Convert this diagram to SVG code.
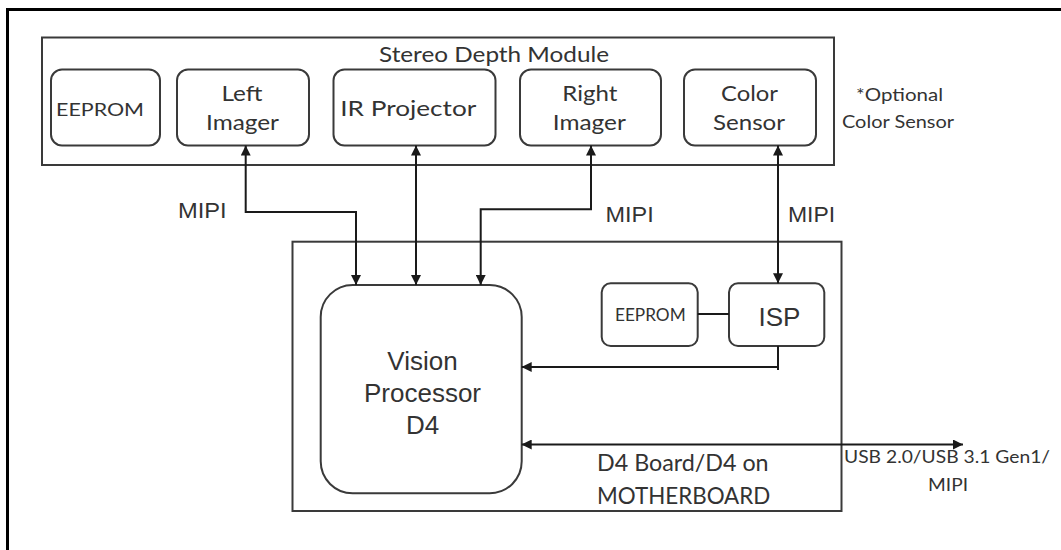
<svg xmlns="http://www.w3.org/2000/svg" width="1061" height="550" viewBox="0 0 1061 550">
<defs>
<marker id="ah" viewBox="0 0 10 10" refX="10" refY="5" markerWidth="10" markerHeight="10" markerUnits="userSpaceOnUse" orient="auto-start-reverse">
<path d="M0,0 L10,5 L0,10 z" fill="#1a1a1a"/>
</marker>
<style>
.frame{fill:none;stroke:#000;stroke-width:3}
.box{fill:#fff;stroke:#3a3a3a;stroke-width:2}
.cont{fill:none;stroke:#3a3a3a;stroke-width:2}
.conn{fill:none;stroke:#1a1a1a;stroke-width:2}
.cal{font-family:Lato,"Open Sans",sans-serif;fill:#333}
.ar{font-family:"Liberation Sans",Arial,sans-serif;fill:#333}
</style>
</defs>
<rect width="1061" height="550" fill="#fff"/>
<path class="frame" d="M7.5,550 V9.5 H1061"/>

<g id="stereo-depth-module">
<rect class="cont" x="42" y="37.5" width="792" height="127.5"/>
<text class="cal" x="494" y="62" font-size="21" text-anchor="middle" textLength="230" lengthAdjust="spacingAndGlyphs">Stereo Depth Module</text>
</g>
<g id="eeprom-module">
<rect class="box" x="51" y="69.5" width="109" height="76" rx="11"/>
<text class="cal" x="100" y="116" font-size="18" text-anchor="middle" textLength="88" lengthAdjust="spacingAndGlyphs">EEPROM</text>
</g>
<g id="left-imager">
<rect class="box" x="177" y="69.5" width="132" height="76" rx="11"/>
<text class="cal" x="242" y="101" font-size="21" text-anchor="middle" textLength="41" lengthAdjust="spacingAndGlyphs">Left</text>
<text class="cal" x="242.5" y="130" font-size="21" text-anchor="middle" textLength="73" lengthAdjust="spacingAndGlyphs">Imager</text>
</g>
<g id="ir-projector">
<rect class="box" x="333.5" y="69.5" width="162" height="76" rx="11"/>
<text class="cal" x="408.3" y="115.5" font-size="22" text-anchor="middle" textLength="136" lengthAdjust="spacingAndGlyphs">IR Projector</text>
</g>
<g id="right-imager">
<rect class="box" x="520" y="69.5" width="141" height="76" rx="11"/>
<text class="cal" x="589.8" y="100.5" font-size="21" text-anchor="middle" textLength="55" lengthAdjust="spacingAndGlyphs">Right</text>
<text class="cal" x="589.3" y="130" font-size="21" text-anchor="middle" textLength="73" lengthAdjust="spacingAndGlyphs">Imager</text>
</g>
<g id="color-sensor">
<rect class="box" x="684" y="69.5" width="132" height="76" rx="11"/>
<text class="cal" x="749.5" y="101" font-size="21" text-anchor="middle" textLength="57" lengthAdjust="spacingAndGlyphs">Color</text>
<text class="cal" x="749" y="130" font-size="21" text-anchor="middle" textLength="72" lengthAdjust="spacingAndGlyphs">Sensor</text>
</g>
<g id="optional-note">
<text class="cal" x="899.5" y="101" font-size="18" text-anchor="middle" textLength="87" lengthAdjust="spacingAndGlyphs">*Optional</text>
<text class="cal" x="898" y="127.5" font-size="18" text-anchor="middle" textLength="112" lengthAdjust="spacingAndGlyphs">Color Sensor</text>
</g>

<g id="d4-board">
<rect class="cont" x="292.5" y="241.7" width="549" height="269.3"/>
<text class="cal" x="597" y="471" font-size="23" textLength="171.6" lengthAdjust="spacingAndGlyphs">D4 Board/D4 on</text>
<text class="cal" x="597" y="504" font-size="23" textLength="173.3" lengthAdjust="spacingAndGlyphs">MOTHERBOARD</text>
</g>
<g id="vision-processor">
<rect class="box" x="320.7" y="285" width="201" height="208.3" rx="32"/>
<text class="ar" x="422.5" y="370" font-size="26" text-anchor="middle">Vision</text>
<text class="ar" x="422.5" y="401.7" font-size="26" text-anchor="middle">Processor</text>
<text class="ar" x="422.5" y="434" font-size="26" text-anchor="middle">D4</text>
</g>
<g id="eeprom-board">
<rect class="box" x="601.7" y="283.3" width="96" height="62.7" rx="9"/>
<text class="cal" x="650.3" y="321" font-size="18" text-anchor="middle" textLength="70.7" lengthAdjust="spacingAndGlyphs">EEPROM</text>
</g>
<g id="isp">
<rect class="box" x="729" y="283.3" width="95.3" height="62.7" rx="9"/>
<text class="ar" x="779.5" y="326" font-size="26" text-anchor="middle">ISP</text>
</g>

<g id="connectors">
<path class="conn" d="M245.7,145.5 V212 H356 V285" marker-start="url(#ah)" marker-end="url(#ah)"/>
<path class="conn" d="M416,145.5 V285" marker-start="url(#ah)" marker-end="url(#ah)"/>
<path class="conn" d="M591,145.5 V209.3 H480.7 V285" marker-start="url(#ah)" marker-end="url(#ah)"/>
<path class="conn" d="M778,145.5 V283.3" marker-start="url(#ah)" marker-end="url(#ah)"/>
<path class="conn" d="M778,346 V370"/>
<path class="conn" d="M778,367 H521.7" marker-end="url(#ah)"/>
<path class="conn" d="M521.7,444.5 H963" marker-start="url(#ah)" marker-end="url(#ah)"/>
<path class="conn" d="M697.7,314 H729"/>
</g>

<g id="labels">
<text class="ar" x="178" y="218" font-size="22" textLength="48.7" lengthAdjust="spacingAndGlyphs">MIPI</text>
<text class="ar" x="605.5" y="222" font-size="22" textLength="48.3" lengthAdjust="spacingAndGlyphs">MIPI</text>
<text class="ar" x="788" y="222" font-size="22" textLength="47.2" lengthAdjust="spacingAndGlyphs">MIPI</text>
<text class="cal" x="947" y="463.3" font-size="17" text-anchor="middle" textLength="206" lengthAdjust="spacingAndGlyphs">USB 2.0/USB 3.1 Gen1/</text>
<text class="cal" x="948" y="490.7" font-size="17" text-anchor="middle" textLength="40" lengthAdjust="spacingAndGlyphs">MIPI</text>
</g>
</svg>
